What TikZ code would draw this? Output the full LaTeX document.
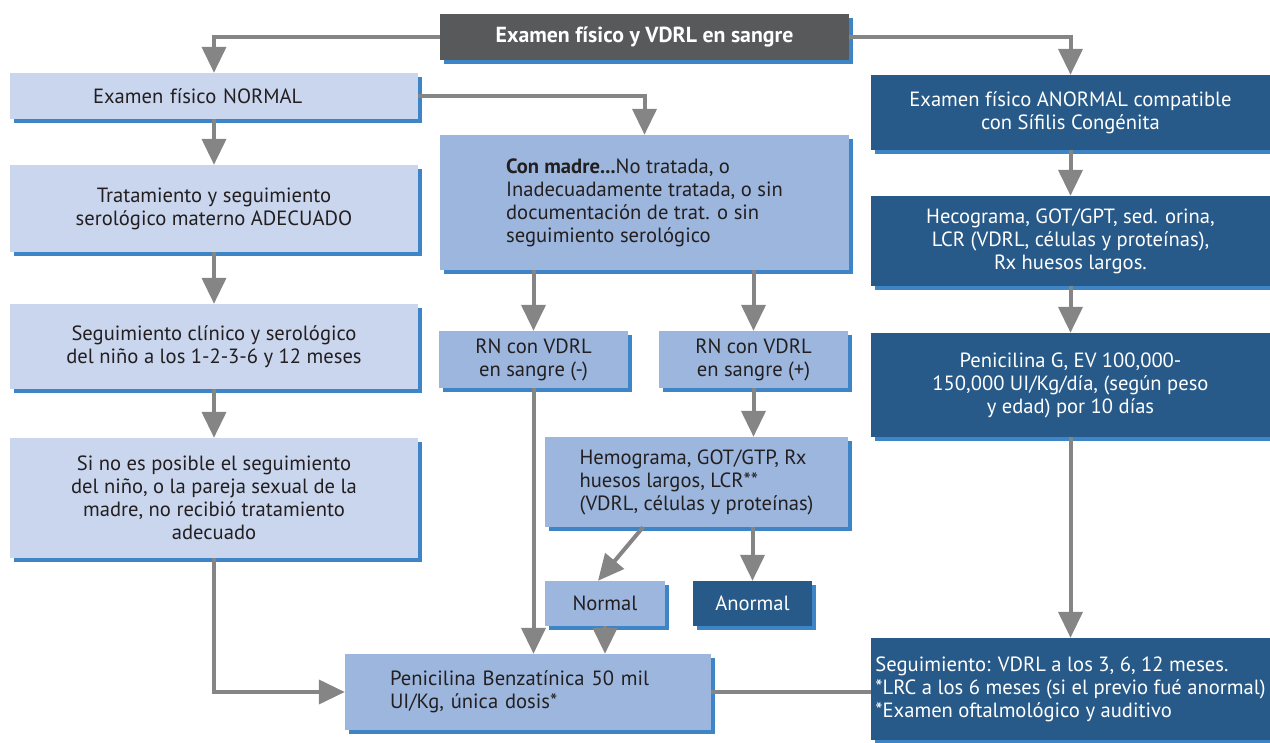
\documentclass[tikz,border=0pt]{standalone}
\usepackage{fontspec}
\setmainfont{PT Sans}
\usetikzlibrary{arrows.meta,shadows}
\definecolor{boxlight}{HTML}{C9D6EE}
\definecolor{boxmid}{HTML}{9CB6DE}
\definecolor{boxdark}{HTML}{285A89}
\definecolor{boxgray}{HTML}{58595B}
\definecolor{shadowblue}{HTML}{3D85C6}
\definecolor{linegray}{HTML}{858585}
\definecolor{textdark}{HTML}{231F20}
\tikzset{
  box/.style={rectangle,inner sep=0pt,align=center,font=\fontsize{20.6}{23}\selectfont,
    drop shadow={shadow xshift=4pt,shadow yshift=-4pt,fill=shadowblue,opacity=1}},
  lightbox/.style={box,fill=boxlight,text=textdark},
  midbox/.style={box,fill=boxmid,text=textdark},
  darkbox/.style={box,fill=boxdark,text=white},
  flow/.style={draw=linegray,line width=4pt,-{Triangle[width=24pt,length=26pt]}},
  plainflow/.style={draw=linegray,line width=4pt}
}
\begin{document}
\begin{tikzpicture}[x=1pt,y=-1pt,line join=miter]
\useasboundingbox (0,0) rectangle (1270,743);
% top
\node[box,fill=boxgray,text=white,font=\fontsize{21.8}{23}\selectfont\bfseries,
  minimum width=409pt,minimum height=46pt] (exam) at (644.5,37) {Examen físico y VDRL en sangre};
% left column
\node[lightbox,minimum width=408pt,minimum height=46pt,text width=242pt,align=left]
  (normal) at (214,96) {Examen físico NORMAL};
\node[lightbox,minimum width=408pt,minimum height=87pt]
  (trat) at (214,208.5) {Tratamiento y seguimiento\\serológico materno ADECUADO};
\node[lightbox,minimum width=408pt,minimum height=85pt]
  (segcli) at (214,346.5) {Seguimiento clínico y serológico\\del niño a los 1-2-3-6 y 12 meses};
\node[lightbox,minimum width=408pt,minimum height=120pt]
  (sino) at (214,498) {Si no es posible el seguimiento\\del niño, o la pareja sexual de la\\madre, no recibió tratamiento\\adecuado};
% middle column
\node[midbox,minimum width=409pt,minimum height=135pt,align=left]
  (madre) at (644.5,202.5) {\textbf{Con madre...}No tratada, o\\Inadecuadamente tratada, o sin\\documentación de trat. o sin\\seguimiento serológico};
\node[midbox,minimum width=189pt,minimum height=57pt]
  (rnneg) at (533.5,359.5) {RN con VDRL\\en sangre (-)};
\node[midbox,minimum width=189pt,minimum height=57pt]
  (rnpos) at (753.5,359.5) {RN con VDRL\\en sangre (+)};
\node[midbox,minimum width=303pt,minimum height=90pt,align=left]
  (hemo) at (696.5,482) {Hemograma, GOT/GTP, Rx\\huesos largos, LCR**\\(VDRL, células y proteínas)};
\node[midbox,minimum width=120pt,minimum height=45pt]
  (nor) at (605,603.5) {Normal};
\node[darkbox,minimum width=119pt,minimum height=45pt]
  (anor) at (752.5,603.5) {Anormal};
\node[midbox,minimum width=366pt,minimum height=76pt,text width=276pt,align=left]
  (peni) at (528,692) {Penicilina Benzatínica 50 mil\\UI/Kg, única dosis*};
% right column
\node[darkbox,minimum width=399pt,minimum height=75pt]
  (anormal) at (1070.5,112.5) {Examen físico ANORMAL compatible\\con Sífilis Congénita};
\node[darkbox,minimum width=399pt,minimum height=90pt]
  (hecog) at (1070.5,241) {Hecograma, GOT/GPT, sed. orina,\\LCR (VDRL, células y proteínas),\\Rx huesos largos.};
\node[darkbox,minimum width=399pt,minimum height=104pt]
  (penig) at (1070.5,385) {Penicilina G, EV 100,000-\\150,000 UI/Kg/día, (según peso\\y edad) por 10 días};
\node[darkbox,minimum width=399pt,minimum height=102pt,align=left]
  (segvdrl) at (1070.5,689) {Seguimiento: VDRL a los 3, 6, 12 meses.\\*LRC a los 6 meses (si el previo fué anormal)\\*Examen oftalmológico y auditivo};
% connectors
\draw[flow] (exam.west) -| (normal.north);
\draw[flow] (exam.east) -| (anormal.north);
\draw[flow] (normal.east) -| (madre.north);
\draw[flow] (normal) -- (trat);
\draw[flow] (trat) -- (segcli);
\draw[flow] (segcli) -- (sino);
\draw[flow] (sino.south) |- (peni.west);
\draw[flow] (rnneg.north |- madre.south) -- (rnneg.north);
\draw[flow] (rnpos.north |- madre.south) -- (rnpos.north);
\draw[flow] (rnpos.south) -- (rnpos.south |- hemo.north);
\draw[flow] (rnneg.south) -- (rnneg.south |- peni.north);
\draw[flow] ([xshift=-53.5pt]hemo.south) -- ([xshift=-7pt]nor.north);
\draw[flow] (anor.north |- hemo.south) -- (anor.north);
\draw[flow] (nor.south) -- (nor.south |- peni.north);
\draw[plainflow] (peni.east) -- (peni.east -| segvdrl.west);
\draw[flow] (anormal) -- (hecog);
\draw[flow] (hecog) -- (penig);
\draw[flow] (penig) -- (segvdrl);
\end{tikzpicture}
\end{document}
